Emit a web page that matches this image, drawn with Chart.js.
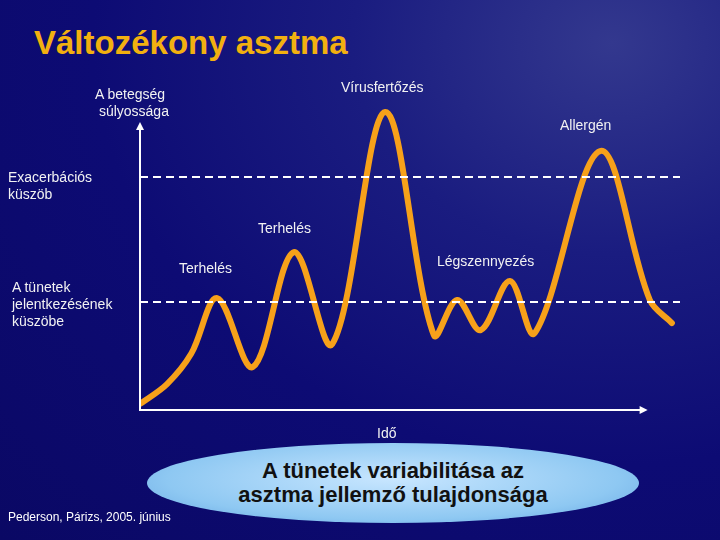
<!DOCTYPE html>
<html>
<head>
<meta charset="utf-8">
<script src="https://cdn.jsdelivr.net/npm/chart.js@4"></script>
<style>
  html, body { margin: 0; padding: 0; }
  body {
    width: 720px; height: 540px; overflow: hidden; position: relative;
    font-family: "Liberation Sans", Arial, sans-serif;
    background: radial-gradient(ellipse at 85% 8%, #33388e 0%, #1a1c80 30%, #0d0b74 60%, #0a0864 100%);
  }
  #wrap { position: absolute; left: 0; top: 0; width: 720px; height: 540px; }
  .t { position: absolute; color: #f2f2f2; font-size: 14px; line-height: 17px; white-space: nowrap; }
  #title { position: absolute; left: 34px; top: 24px; font-size: 33px; font-weight: bold; color: #f2b010; }
  #ell {
    position: absolute; left: 147px; top: 443px; width: 492px; height: 80px; border-radius: 50%;
    background: radial-gradient(ellipse at 50% 45%, #c8e6ff 0%, #8ec8f2 65%, #5e9fe0 100%);
  }
  #ellText {
    position: absolute; left: 147px; top: 459px; width: 492px; text-align: center;
    font-size: 22px; font-weight: bold; line-height: 24px; color: #111;
  }
</style>
</head>
<body>
<div id="title">Változékony asztma</div>
<div id="ell"></div>
<div id="ellText">A tünetek variabilitása az<br>asztma jellemző tulajdonsága</div>
<div id="wrap"><canvas id="c" width="720" height="540"></canvas></div>
<div class="t" style="left:95px;top:86px">A betegség<br>&nbsp;súlyossága</div>
<div class="t" style="left:341px;top:79px">Vírusfertőzés</div>
<div class="t" style="left:560px;top:117px">Allergén</div>
<div class="t" style="left:8px;top:169px">Exacerbációs<br>küszöb</div>
<div class="t" style="left:258px;top:220px">Terhelés</div>
<div class="t" style="left:179px;top:260px">Terhelés</div>
<div class="t" style="left:437px;top:253px">Légszennyezés</div>
<div class="t" style="left:12px;top:279px">A tünetek<br>jelentkezésének<br>küszöbe</div>
<div class="t" style="left:377px;top:425px">Idő</div>
<div class="t" style="left:8px;top:509px;font-size:12px;color:#fff">Pederson, Párizs, 2005. június</div>
<script>
// severity curve, time 0..100, severity 0..100
const timeValues = [0, 5, 9.5, 14.3, 20.9, 28.5, 35.6, 45.4, 54.4, 58.7, 63.1, 68.5, 73.1, 85.2, 94.4, 98.5];
const severityValues = [2, 8.5, 18.5, 36.7, 14.1, 51.8, 21.6, 97.7, 24.6, 36.1, 26.2, 42.3, 25.2, 84.9, 36.1, 28.5];
const exacerbationLevel = 76.4;
const symptomLevel = 35.4;
const exacerbationEnd = 100.4;
const symptomEnd = 101.5;
const xAxisEnd = 94;
const yAxisTop = 94.4;

const axesPlugin = {
    id: 'axes',
    afterDatasetsDraw(chart) {
        const ctx = chart.ctx;
        const x = chart.scales.x, y = chart.scales.y;
        const x0 = x.getPixelForValue(0), y0 = y.getPixelForValue(0);
        const xe = x.getPixelForValue(xAxisEnd), yt = y.getPixelForValue(yAxisTop);
        ctx.save();
        ctx.strokeStyle = '#fff';
        ctx.fillStyle = '#fff';
        ctx.lineWidth = 2;
        ctx.beginPath();
        ctx.moveTo(x0, yt + 6); ctx.lineTo(x0, y0); ctx.lineTo(xe - 6, y0);
        ctx.stroke();
        // arrow heads
        ctx.beginPath();
        ctx.moveTo(xe, y0); ctx.lineTo(xe - 8, y0 - 4); ctx.lineTo(xe - 8, y0 + 4); ctx.closePath(); ctx.fill();
        ctx.beginPath();
        ctx.moveTo(x0, yt); ctx.lineTo(x0 - 4, yt + 8); ctx.lineTo(x0 + 4, yt + 8); ctx.closePath(); ctx.fill();
        ctx.restore();
    }
};

new Chart(document.getElementById('c'), {
    type: 'scatter',
    data: {
        datasets: [
            {
                data: [{x: 0, y: exacerbationLevel}, {x: exacerbationEnd, y: exacerbationLevel}],
                showLine: true, borderColor: '#ffffff', borderWidth: 2, borderDash: [8, 5],
                pointRadius: 0
            },
            {
                data: [{x: 0, y: symptomLevel}, {x: symptomEnd, y: symptomLevel}],
                showLine: true, borderColor: '#ffffff', borderWidth: 2, borderDash: [8, 5],
                pointRadius: 0
            },
            {
                data: timeValues.map((t, i) => ({x: t, y: severityValues[i]})),
                showLine: true, borderColor: '#f7a11a', borderWidth: 6,
                tension: 0.35, pointRadius: 0,
                borderCapStyle: 'round', borderJoinStyle: 'round'
            }
        ]
    },
    options: {
        responsive: false,
        animation: false,
        layout: { padding: { left: 140, right: 40, top: 105, bottom: 130 } },
        plugins: { legend: { display: false }, tooltip: { enabled: false } },
        scales: {
            x: { type: 'linear', min: 0, max: 100, display: false },
            y: { type: 'linear', min: 0, max: 100, display: false }
        }
    },
    plugins: [axesPlugin]
});
</script>
</body>
</html>
